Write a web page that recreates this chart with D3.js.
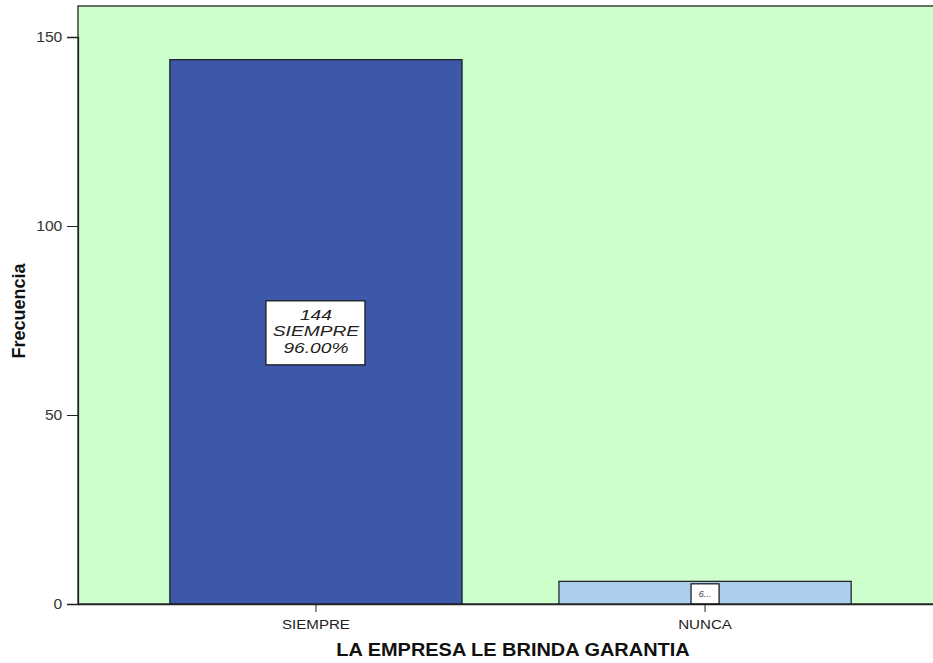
<!DOCTYPE html>
<html>
<head>
<meta charset="utf-8">
<script src="https://cdn.jsdelivr.net/npm/d3@7"></script>
<style>
  html, body { margin: 0; padding: 0; background: #fff; }
  svg { display: block; font-family: Arial, "Liberation Sans", sans-serif; }
</style>
</head>
<body>
<svg id="chart" width="933" height="663"></svg>
<script>
// Frequency of answers: "LA EMPRESA LE BRINDA GARANTIA"
const categories = ["SIEMPRE", "NUNCA"];
const counts = [144, 6];
const percents = ["96.00%", "4.00%"];
const barColors = ["#3d57a9", "#abcdee"];
const yTicks = [0, 50, 100, 150];

const svg = d3.select("#chart");
const plot = { left: 78, top: 6, right: 943, bottom: 604 };

const x = d3.scaleBand()
  .domain(categories)
  .range([plot.left, plot.right])
  .paddingInner(0.249)
  .paddingOuter(0.236);

const y = d3.scaleLinear()
  .domain([0, 150])
  .range([plot.bottom, plot.bottom - 567]);

// plot background
svg.append("rect")
  .attr("x", plot.left).attr("y", plot.top)
  .attr("width", plot.right - plot.left).attr("height", plot.bottom - plot.top)
  .attr("fill", "#ccffcc")
  .attr("stroke", "#222").attr("stroke-width", 1.3);

// bars
const data = categories.map((c, i) => ({ cat: c, n: counts[i], pct: percents[i], color: barColors[i] }));
svg.append("g").selectAll("rect").data(data).join("rect")
  .attr("x", d => x(d.cat))
  .attr("y", d => y(d.n))
  .attr("width", x.bandwidth())
  .attr("height", d => y(0) - y(d.n))
  .attr("fill", d => d.color)
  .attr("stroke", "#1a1a1a").attr("stroke-width", 1.2);

// y axis
const yAxis = svg.append("g")
  .attr("transform", `translate(${plot.left},0)`)
  .call(d3.axisLeft(y).tickValues(yTicks).tickSize(11).tickPadding(3));
yAxis.select(".domain").attr("stroke", "#222").attr("stroke-width", 1.3);
yAxis.selectAll(".tick line").attr("stroke", "#222");
yAxis.selectAll(".tick text").attr("fill", "#333").style("font-size", "14px")
  .attr("transform", "scale(1.12,1)");

// x axis
const xAxis = svg.append("g")
  .attr("transform", `translate(0,${plot.bottom})`)
  .call(d3.axisBottom(x).tickSize(8).tickPadding(7).tickSizeOuter(0));
xAxis.select(".domain").attr("stroke", "#222").attr("stroke-width", 1.3)
  .attr("d", `M${plot.left},0.5H${plot.right}`);
xAxis.selectAll(".tick line").attr("stroke", "#222");
xAxis.selectAll(".tick text").attr("fill", "#222").style("font-size", "13.5px")
  .attr("transform", "scale(1.12,1)");

// axis titles
svg.append("text")
  .attr("transform", `translate(25,${(plot.top + plot.bottom) / 2 + 6}) rotate(-90)`)
  .attr("text-anchor", "middle")
  .style("font-size", "18px").style("font-weight", "bold").attr("fill", "#111")
  .text("Frecuencia");

svg.append("text")
  .attr("transform", "translate(513,656) scale(1.05,1)")
  .attr("text-anchor", "middle")
  .style("font-size", "19px").style("font-weight", "bold").attr("fill", "#111")
  .text("LA EMPRESA LE BRINDA GARANTIA");

// value labels
const big = data[0];
const cx = x(big.cat) + x.bandwidth() / 2;
const cy = (y(big.n) + y(0)) / 2;
svg.append("rect")
  .attr("x", cx - 50).attr("y", cy - 31)
  .attr("width", 99).attr("height", 64)
  .attr("fill", "#fff").attr("stroke", "#111").attr("stroke-width", 1.2);
const lbl = svg.append("text")
  .attr("transform", `translate(${cx},${cy}) scale(1.28,1)`)
  .attr("text-anchor", "middle")
  .style("font-size", "15px").style("font-style", "italic").attr("fill", "#222");
[String(big.n), big.cat, big.pct].forEach((t, i) => {
  lbl.append("tspan").attr("x", 0).attr("y", -12 + i * 16.5).text(t);
});

const small = data[1];
const sx = x(small.cat) + x.bandwidth() / 2;
svg.append("rect")
  .attr("x", sx - 14).attr("y", y(small.n) + 2.5)
  .attr("width", 28).attr("height", 20)
  .attr("fill", "#fff").attr("stroke", "#111").attr("stroke-width", 1.2);
svg.append("text")
  .attr("x", sx).attr("y", y(small.n) + 16)
  .attr("text-anchor", "middle")
  .style("font-size", "9px").style("font-style", "italic").attr("fill", "#444")
  .text(String(small.n).slice(0, 1) + "...");
</script>
</body>
</html>
